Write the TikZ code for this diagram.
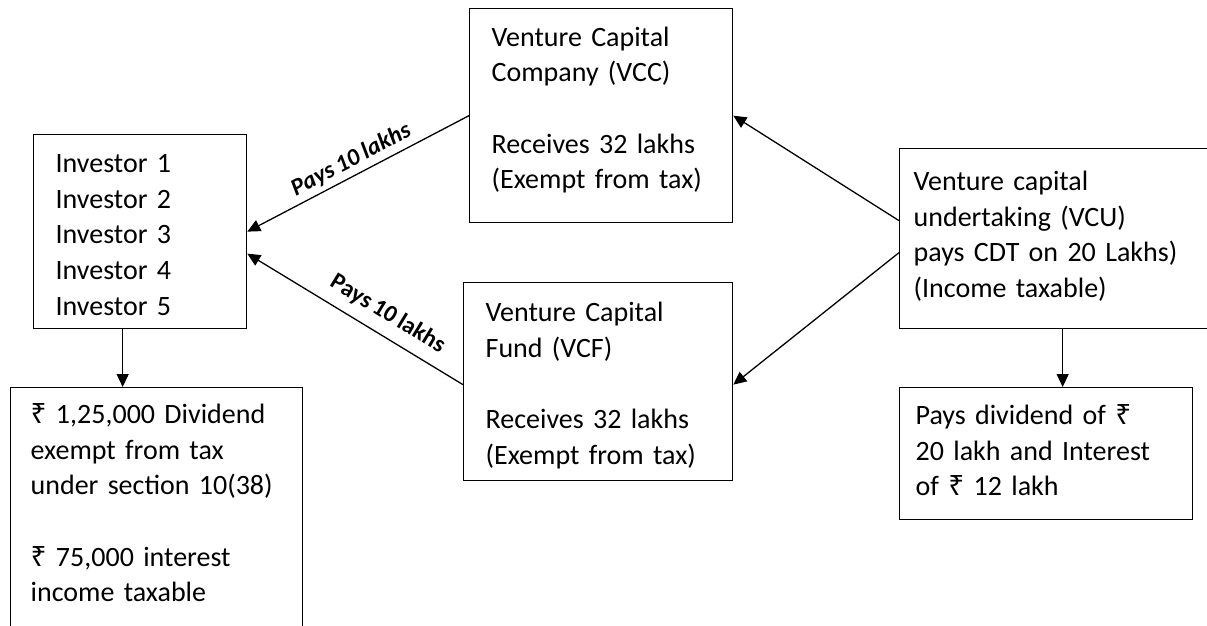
\documentclass[tikz,border=0pt]{standalone}
\usepackage{fontspec}
\setmainfont[WordSpace=0.85]{Carlito}
\newfontfamily\rupeefont{Noto Sans}
\newcommand{\rs}{{\rupeefont\symbol{"20B9}}}
\usetikzlibrary{calc,arrows.meta,positioning}

\begin{document}
\begin{tikzpicture}[x=1pt,y=-1pt,
    box/.style={draw,line width=1.3pt,align=left,inner ysep=0pt,anchor=north west,
      font=\fontsize{28}{35.6}\selectfont},
    flow/.style={-{Triangle[length=13pt,width=12pt]},line width=1.3pt},
    pays/.style={font=\fontsize{24}{28}\selectfont\bfseries},
    payslant/.style={font=\fontsize{24}{28}\selectfont\bfseries\itshape}]
      \useasboundingbox (0,0) rectangle (1207,626);
      \clip (0,0) rectangle (1207,626);
      % boxes
      \node[box,text width=169pt,inner xsep=22pt,text height=38pt,text depth=156pt]
        (inv) at (33,134) {Investor 1\\Investor 2\\Investor 3\\Investor 4\\Investor 5};
      \node[box,text width=252pt,inner xsep=20pt,text height=36pt,text depth=300pt]
        (div) at (10,387) {\rs{} 1,25,000 Dividend\\exempt from tax\\under section 10(38)\\[35.6pt]%
          \rs{} 75,000 interest\\income taxable};
      \node[box,text width=219pt,inner xsep=22pt,text height=37.7pt,text depth=176.3pt]
        (vcc) at (469,8) {Venture Capital\\Company (VCC)\\[35.6pt]Receives 32 lakhs\\(Exempt from tax)};
      \node[box,text width=225pt,inner xsep=22pt,text height=39pt,text depth=159pt]
        (vcf) at (463,282) {Venture Capital\\Fund (VCF)\\[35.6pt]Receives 32 lakhs\\(Exempt from tax)};
      \node[box,text width=298pt,inner xsep=14pt,text height=42pt,text depth=138pt]
        (vcu) at (899,148) {Venture capital\\undertaking (VCU)\\pays CDT on 20 Lakhs)\\(Income taxable)};
      \node[box,text width=261pt,inner xsep=16pt,text height=37pt,text depth=95pt]
        (pay) at (899,387) {Pays dividend of \rs\\20 lakh and Interest\\of \rs{} 12 lakh};
      % arrows
      \draw[flow] (vcc.west) -- node[payslant,midway,above=1pt,sloped]{Pays 10 lakhs} (inv.east);
      \draw[flow] ($(vcf.west)+(0,3)$) -- node[pays,pos=.4,above=7pt,sloped]{Pays 10 lakhs} ($(inv.east)+(0,22)$);
      \draw[flow] ($(vcu.west)+(0,-18)$) -- (vcc.east);
      \draw[flow] ($(vcu.west)+(0,14)$) -- ($(vcf.east)+(0,3)$);
      \coordinate (invout) at ($(inv.south)+(-17.5,0)$);
      \draw[flow] (invout) -- (invout |- div.north);
      \draw[flow] (vcu.south) -- (vcu.south |- pay.north);
    \end{tikzpicture}
\end{document}
